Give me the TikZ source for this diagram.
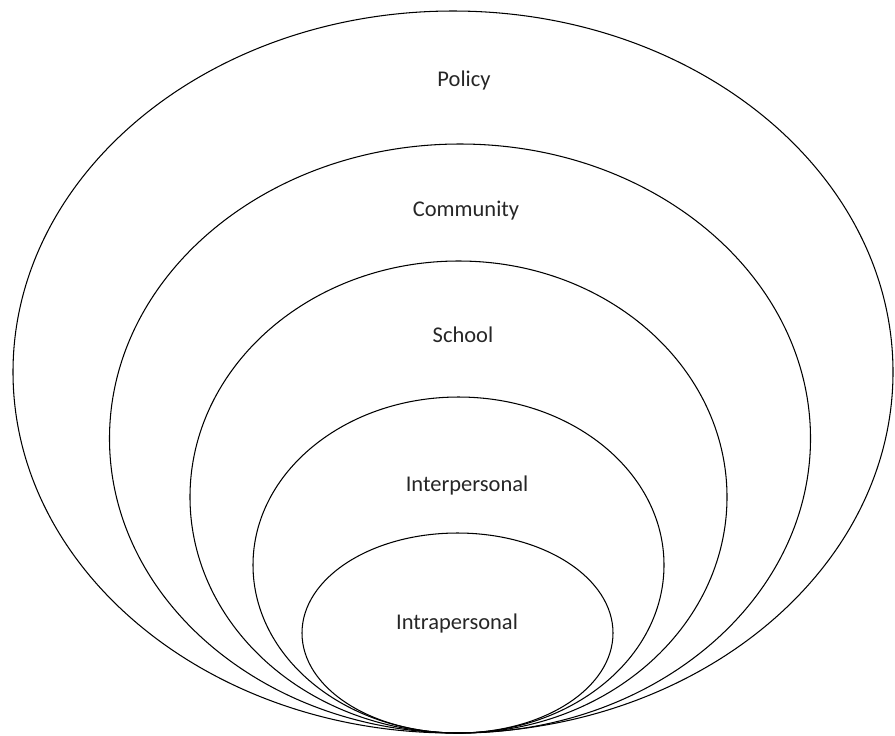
\documentclass[tikz,border=0pt]{standalone}
\usepackage{fontspec}
\setmainfont{Carlito}
\usepackage{tikz}

\tikzset{
	layer/.style={draw=black, line width=0.6pt},
	lbl/.style={font=\fontsize{12.8}{14}\selectfont, text=black!85, inner sep=0pt}
}

\begin{document}
\begin{tikzpicture}[x=0.02cm, y=-0.02cm]
	\useasboundingbox (0,0) rectangle (895,735);
	% The nested levels, all touching at the bottom
	\draw[layer] (453,372) ellipse (440 and 361);
	\draw[layer] (460,438.5) ellipse (350.5 and 294.5);
	\draw[layer] (458.5,497) ellipse (268.5 and 236);
	\draw[layer] (458.5,565) ellipse (205.5 and 168);
	\draw[layer] (457.5,633) ellipse (155.5 and 100);
	% Labels
	\node[lbl] (policy) at (464,80) {Policy};
	\node[lbl] (community) at (466,211) {Community};
	\node[lbl] (school) at (463,335) {School};
	\node[lbl] (inter) at (467,485) {Interpersonal};
	\node[lbl] (intra) at (457,623) {Intrapersonal};
\end{tikzpicture}
\end{document}
